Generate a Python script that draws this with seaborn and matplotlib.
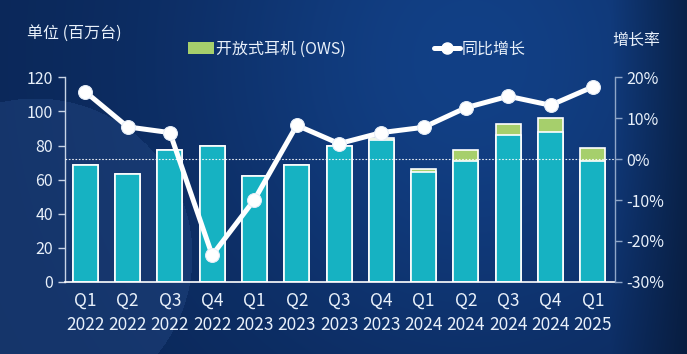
import numpy as np
import matplotlib
matplotlib.use("Agg")
import matplotlib.pyplot as plt
import seaborn as sns
from matplotlib.patches import Patch
from matplotlib.lines import Line2D

quarters = ["Q1\n2022", "Q2\n2022", "Q3\n2022", "Q4\n2022",
            "Q1\n2023", "Q2\n2023", "Q3\n2023", "Q4\n2023",
            "Q1\n2024", "Q2\n2024", "Q3\n2024", "Q4\n2024", "Q1\n2025"]
base_units = [68.5, 63, 77.3, 79.6, 62, 68.5, 80, 83, 64.2, 71.2, 86.3, 88.2, 70.8]
ows_units = [0, 0, 0, 0, 0, 0, 0, 1.5, 2.3, 6.1, 6.2, 8.2, 7.5]
yoy_growth = [16.5, 7.9, 6.5, -23.5, -9.9, 8.3, 3.8, 6.5, 7.8, 12.6, 15.4, 13.2, 17.7]
left_ticks = [0, 20, 40, 60, 80, 100, 120]
right_ticks = [-30, -20, -10, 0, 10, 20]

total_units = [b + o for b, o in zip(base_units, ows_units)]

sns.set_style("white")
FONT = ["Noto Sans CJK SC", "DejaVu Sans"]
plt.rcParams["font.family"] = FONT

TXT = "#e8f0fa"
TEAL = "#16b2c2"
GREEN = "#a6cf6c"

fig = plt.figure(figsize=(6.87, 3.54), dpi=100)

# background gradient
bg = fig.add_axes([0, 0, 1, 1], zorder=-10)
H, W = 354, 687
yy, xx = np.mgrid[0:H, 0:W]
c_dark = np.array([0x0b, 0x27, 0x58]) / 255
c_light = np.array([0x12, 0x40, 0x86]) / 255
g = np.exp(-(((xx - 470) / 280.0) ** 2 + ((yy - 60) / 300.0) ** 2))
img = c_dark[None, None, :] * (1 - g[..., None]) + c_light[None, None, :] * g[..., None]
edge = np.clip((xx - 610) / 77.0, 0, 1) * 0.35
img = img * (1 - edge[..., None])
circ = ((xx - 35) ** 2 + (yy - 255) ** 2) < 157 ** 2
img[circ] = img[circ] * 0.7 + np.array([0x2e, 0x55, 0x94]) / 255 * 0.3
bg.imshow(img, aspect="auto", extent=[0, 1, 0, 1], origin="upper")
bg.axis("off")

ax = fig.add_axes([0.0946, 0.2042, 0.8004, 0.577])
ax.set_facecolor("none")

sns.barplot(x=quarters, y=total_units, color=GREEN, saturation=1, width=0.59,
            edgecolor="white", linewidth=1.2, ax=ax)
sns.barplot(x=quarters, y=base_units, color=TEAL, saturation=1, width=0.59,
            edgecolor="white", linewidth=1.2, ax=ax)

ax.set_ylim(0, 120)
ax.set_xlim(-0.48, 12.52)
ax.set_yticks(left_ticks)
ax.set_xlabel("")
ax.set_ylabel("")
ax.tick_params(axis="y", colors="#c8d4e6", labelcolor=TXT, labelsize=11.5,
               length=5, width=1, direction="out", left=True)
ax.tick_params(axis="x", length=0, labelcolor=TXT, labelsize=12.5, pad=7)
for lab in ax.get_xticklabels() + ax.get_yticklabels():
    lab.set_family(FONT)
for lab in ax.get_xticklabels():
    lab.set_linespacing(1.45)
for s in ["top", "right"]:
    ax.spines[s].set_visible(False)
ax.spines["left"].set_color("#c8d4e6")
ax.spines["left"].set_linewidth(1)
ax.spines["bottom"].set_color("white")
ax.spines["bottom"].set_linewidth(1.2)

ax2 = ax.twinx()
ax2.set_ylim(-30, 20)
ax2.axhline(0, color="white", lw=0.8, ls=(0, (1.5, 1.5)), alpha=0.9, zorder=1)
sns.lineplot(x=quarters, y=yoy_growth, sort=False, color="white", lw=3.6,
             marker="o", markersize=10, markeredgecolor="#e6eef8",
             markerfacecolor="white", ax=ax2, zorder=5)
ax2.set_yticks(right_ticks)
ax2.set_yticklabels([f"{t}%" for t in right_ticks])
ax2.tick_params(axis="y", colors="#8fa6c8", labelcolor=TXT, labelsize=11.5,
                length=5, width=1, direction="out", right=True)
for lab in ax2.get_yticklabels():
    lab.set_family(FONT)
for s in ["top", "left", "bottom"]:
    ax2.spines[s].set_visible(False)
ax2.spines["right"].set_color("#8fa6c8")
ax2.spines["right"].set_linewidth(1)
ax2.set_ylabel("")
ax2.set_xlim(-0.48, 12.52)
if ax2.get_legend():
    ax2.get_legend().remove()

fig.text(27 / 687, 1 - 33 / 354, "单位 (百万台)", color=TXT, fontsize=11.5,
         family=FONT, ha="left", va="center")
fig.text(612 / 687, 1 - 40 / 354, "增长率", color=TXT, fontsize=11.5,
         family=FONT, ha="left", va="center")

handles = [Patch(facecolor=GREEN, edgecolor="none"),
           Line2D([0], [0], color="white", lw=3.6, marker="o", markersize=8)]
leg = fig.legend(handles, ["开放式耳机 (OWS)", "同比增长"], loc="center",
                 bbox_to_anchor=(0.52, 1 - 49 / 354), ncol=2, frameon=False,
                 handlelength=1.6, handletextpad=0.15,
                 columnspacing=5.5, prop={"family": FONT, "size": 11.5})
for t in leg.get_texts():
    t.set_color(TXT)

fig.savefig("out.png", dpi=100, facecolor="#0b2656")
